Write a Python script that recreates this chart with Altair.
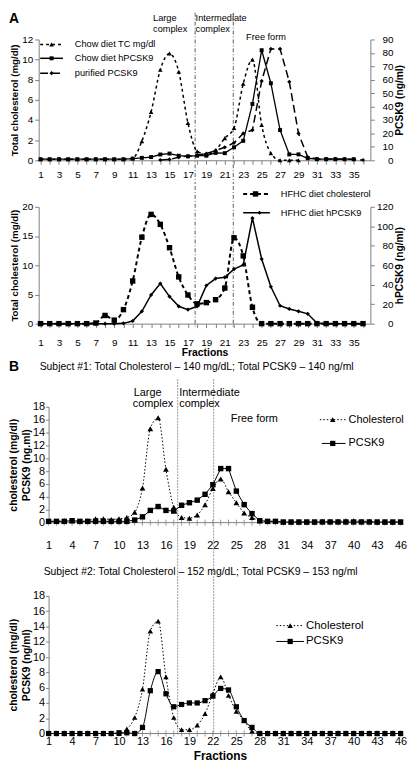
import altair as alt
import pandas as pd

FONT = "Liberation Sans"
BLACK = "#000000"
AXC = "#7f7f7f"

# ---------------- data ----------------
# Panel A, top: chow diet
frac_tc = list(range(1, 30))
chow_tc = [0.1, 0.1, 0.1, 0.1, 0.1, 0.1, 0.1, 0.1, 0.1, 0.1, 0.2, 1.9, 4.8, 9.0, 10.6,
           8.8, 3.7, 0.9, 0.6, 1.0, 2.2, 3.2, 7.6, 10.0, 3.5, 0.7, 0.0, 0.0, 0.0]
frac_hp = list(range(1, 36))
chow_hpcsk9 = [0.8, 0.8, 0.8, 0.8, 0.8, 0.8, 0.8, 0.8, 0.8, 0.8, 1.2, 1.8, 2.4, 4.3, 5.0,
               3.4, 2.9, 3.4, 3.4, 5.5, 5.3, 9.7, 14.5, 42.0, 82.0, 57.4, 22.5, 4.4, 4.4, 1.5,
               0.8, 0.8, 0.8, 0.8, 0.8]
frac_pur = list(range(14, 37))
purified_pcsk9 = [0.2, 0.6, 2.2, 3.2, 3.8, 5.0, 7.2, 9.7, 13.0, 20.0, 22.5, 59.0, 83.0, 83.0,
                  58.5, 20.0, 2.4, 1.0, 1.0, 1.0, 0.8, 0.5, 0.2]

# Panel A, bottom: HFHC diet
frac_a = list(range(1, 37))
hfhc_chol = [0, 0, 0, 0, 0, 0, 0.1, 1.4, 0.6, 2.4, 7.3, 14.8, 18.7, 17.0, 13.0, 8.0, 4.9, 3.4,
             3.6, 4.1, 6.1, 14.7, 11.6, 2.8, 0, 0, 0, 0, 0, 0, 0, 0, 0, 0, 0, 0]
hfhc_hpcsk9 = [0, 0, 0, 0, 0, 0, 0, 0, 0, 0.3, 2.7, 12.7, 29.5, 41.2, 27.8, 17.8, 14.4, 17.8,
               39.2, 46.3, 47.6, 56.0, 60.3, 108.3, 66.4, 37.9, 18.4, 15.1, 12.7, 10.1, 0.7,
               0, 0, 0, 0, 0]

# Panel B: human subjects
frac_b = list(range(1, 47))
s1_chol = [0.2, 0.2, 0.3, 0.3, 0.2, 0.3, 0.6, 0.6, 0.5, 0.6, 0.8, 1.6, 5.4, 14.6, 16.3, 8.3,
           2.4, 0.8, 0.7, 1.2, 2.8, 5.3, 6.8, 4.8, 3.1, 1.5, 0.8, 0.3, 0.2, 0.2, 0.1, 0.1,
           0.1, 0.1, 0.1, 0.2, 0.2, 0.2, 0.3, 0.3, 0.2, 0.2, 0.1, 0.1, 0.1, 0.1]
s1_pcsk9 = [0.2, 0.2, 0.2, 0.3, 0.2, 0.2, 0.2, 0.2, 0.2, 0.2, 0.2, 0.4, 0.9, 1.9, 2.5, 1.9,
            1.8, 2.7, 3.1, 3.5, 4.4, 5.9, 8.4, 8.4, 4.9, 2.8, 1.4, 0.3, 0.2, 0.2, 0.1, 0.1,
            0.1, 0.1, 0.1, 0.1, 0.1, 0.1, 0.1, 0.1, 0.1, 0.1, 0.1, 0.1, 0.1, 0.1]
s2_chol = [0, 0, 0, 0, 0, 0, 0, 0, 0, 0, 0.6, 2.1, 5.8, 13.4, 14.7, 7.4, 2.1, 0.5, 0.5, 1.1,
           2.6, 5.2, 7.4, 5.0, 2.9, 1.7, 0.3, 0, 0, 0, 0, 0, 0, 0, 0, 0, 0, 0, 0, 0, 0, 0,
           0, 0, 0, 0]
s2_pcsk9 = [0, 0, 0, 0, 0, 0, 0, 0, 0, 0.1, 0.1, 0.0, 0.8, 5.6, 8.1, 5.2, 3.5, 3.8, 4.0, 4.0,
            4.3, 4.9, 5.9, 5.7, 3.5, 1.7, 0.8, 0, 0, 0, 0, 0, 0, 0, 0, 0, 0, 0, 0, 0, 0, 0,
            0, 0, 0, 0]

region_lines_a = [17.78, 21.92]
region_lines_b = [17.5, 22.1]
ticks_a = list(range(1, 37))
ticks_b = [1, 4, 7, 10, 13, 16, 19, 22, 25, 28, 31, 34, 37, 40, 43, 46]

title_s1 = "Subject #1: Total Cholesterol \u2013 140 mg/dL; Total PCSK9 \u2013 140 ng/ml"
title_s2 = "Subject #2: Total Cholesterol \u2013 152 mg/dL; Total PCSK9 \u2013 153 ng/ml"

# ---------------- helpers ----------------
DUMMY = pd.DataFrame({"d": [0]})


def text_mark(x, y, s, size, weight="normal", align="left"):
    return alt.Chart(DUMMY).mark_text(
        text=s, align=align, baseline="middle", font=FONT, fontSize=size,
        fontWeight=weight, color=BLACK
    ).encode(x=alt.value(x), y=alt.value(y))


def bound_mark(left, top, bottom):
    return alt.Chart(DUMMY).mark_rule(color="#ffffff", strokeWidth=1).encode(
        x=alt.value(left), y=alt.value(top), y2=alt.value(bottom))


def legend_row(x1, x2, xm, xt, y, dash, lw, shape, msize, label, fsize):
    rk = dict(color=BLACK, strokeWidth=lw)
    if dash:
        rk["strokeDash"] = dash
    ln = alt.Chart(DUMMY).mark_rule(**rk).encode(
        x=alt.value(x1), x2=alt.value(x2), y=alt.value(y))
    pt = alt.Chart(DUMMY).mark_point(
        shape=shape, filled=True, size=msize, color=BLACK, opacity=1
    ).encode(x=alt.value(xm), y=alt.value(y))
    return [ln, pt, text_mark(xt, y, label, fsize)]


def series(df, xenc, yenc, dash, lw, shape, msize, interp="linear"):
    base = alt.Chart(df).encode(x=xenc, y=yenc)
    lk = dict(color=BLACK, strokeWidth=lw, interpolate=interp)
    if dash:
        lk["strokeDash"] = dash
    return [base.mark_line(**lk),
            base.mark_point(shape=shape, filled=True, size=msize, color=BLACK, opacity=1)]


def vlines(xenc, positions, top, bottom, color, dash, lw):
    df = pd.DataFrame({"f": positions})
    return alt.Chart(df).mark_rule(color=color, strokeDash=dash, strokeWidth=lw).encode(
        x=xenc, y=alt.value(top), y2=alt.value(bottom))


def x_enc(domain, values, tick, lpad, lsize, label_expr=None, title=None, tsize=10, tpad=0,
          show_domain=True):
    ax = dict(values=values, grid=False, tickSize=tick, labelPadding=lpad, labelFontSize=lsize,
              labelFont=FONT, labelColor=BLACK, labelAngle=0, labelFlush=False,
              labelOverlap=False, domain=show_domain, domainColor=AXC, tickColor=AXC,
              title=title)
    if label_expr:
        ax["labelExpr"] = label_expr
    if title:
        ax.update(titleFont=FONT, titleFontSize=tsize, titleFontWeight="bold",
                  titleColor=BLACK, titlePadding=tpad)
    return alt.X("f:Q", scale=alt.Scale(domain=domain, nice=False, zero=False),
                 axis=alt.Axis(**ax))


def y_enc(field, domain, values, orient, title, lsize, tsize, tpad, lpad=2, tick=4,
          lalign=None, tangle=None, tbase=None, tlh=None, offset=None):
    ax = dict(values=values, orient=orient, grid=False, tickSize=tick, labelPadding=lpad,
              labelFontSize=lsize, labelFont=FONT, labelColor=BLACK, domainColor=AXC,
              tickColor=AXC, title=title, titleFont=FONT, titleFontSize=tsize,
              titleFontWeight="bold", titleColor=BLACK, titlePadding=tpad)
    if lalign:
        ax["labelAlign"] = lalign
    if tangle is not None:
        ax["titleAngle"] = tangle
    if tbase:
        ax["titleBaseline"] = tbase
    if tlh:
        ax["titleLineHeight"] = tlh
    if offset is not None:
        ax["offset"] = offset
    return alt.Y(field + ":Q", scale=alt.Scale(domain=domain, nice=False, zero=True),
                 axis=alt.Axis(**ax))


ODD = "datum.value % 2 == 1 ? datum.label : ''"

# ---------------- Panel A (top) ----------------
WA, HA1, HA2 = 335, 122, 118
xA1 = x_enc([0.8, 36.8], ticks_a, 4, 5, 10, label_expr=ODD)
yA1L = y_enc("tc", [0, 12], [0, 2, 4, 6, 8, 10, 12], "left",
             "Total cholesterol (mg/dl)", 10, 9.8, 2)
yA1R = y_enc("pcsk9", [0, 90], [0, 10, 20, 30, 40, 50, 60, 70, 80, 90], "right",
             "PCSK9 (ng/ml)", 10, 10.3, 1, lpad=19, lalign="right", tangle=270, tbase="top")

dfA1_tc = pd.DataFrame({"f": frac_tc, "tc": chow_tc})
dfA1_hp = pd.DataFrame({"f": frac_hp, "pcsk9": chow_hpcsk9})
dfA1_pur = pd.DataFrame({"f": frac_pur, "pcsk9": purified_pcsk9})

a1_left = alt.layer(*series(dfA1_tc, xA1, yA1L, [3, 3], 1.5, "triangle-up", 22, "monotone"))
a1_right = alt.layer(*series(dfA1_hp, xA1, yA1R, None, 1.3, "square", 16),
                     *series(dfA1_pur, xA1, yA1R, [8, 4], 1.5, "diamond", 18))

a1_layers = [bound_mark(-30, -27, 146),
             vlines(xA1, region_lines_a, -27, 146, "#333333", [4, 2, 1, 2], 0.8),
             a1_left, a1_right,
             text_mark(-30, -21, "A", 14, "bold"),
             text_mark(115.5, -22, "Large", 9.3), text_mark(115.5, -10.5, "complex", 9.3),
             text_mark(158.5, -22, "Intermediate", 9.3), text_mark(158.5, -10.5, "complex", 9.3),
             text_mark(209.5, -2, "Free form", 9.3)]
a1_layers += legend_row(1.5, 24.5, 13, 36.5, 5, [3, 3], 1.5, "triangle-up", 22, "Chow diet TC mg/dl", 9.3)
a1_layers += legend_row(1.5, 24.5, 13, 36.5, 19, None, 1.5, "square", 16, "Chow diet hPCSK9", 9.3)
a1_layers += legend_row(1.5, 24.5, 13, 36.5, 34, [8, 4], 1.5, "diamond", 18, "purified PCSK9", 9.3)

panel_a1 = alt.layer(*a1_layers).resolve_scale(y="independent").properties(width=WA, height=HA1)

# ---------------- Panel A (bottom) ----------------
xA2 = x_enc([0.8, 36.8], ticks_a, 4, 10, 10, label_expr=ODD, title="Fractions", tsize=10.5, tpad=0)
yA2L = y_enc("chol", [0, 20], [0, 5, 10, 15, 20], "left", "Total cholesterol (mg/dl)", 10, 9.8, 2)
yA2R = y_enc("hp", [0, 120], [0, 20, 40, 60, 80, 100, 120], "right", "hPCSK9 (ng/ml)", 10, 10.3, 1,
             lpad=19, lalign="right", tangle=270, tbase="top")

dfA2_c = pd.DataFrame({"f": frac_a, "chol": hfhc_chol})
dfA2_h = pd.DataFrame({"f": frac_a, "hp": hfhc_hpcsk9})

a2_left = alt.layer(*series(dfA2_c, xA2, yA2L, [4, 3], 2, "square", 30, "monotone"))
a2_right = alt.layer(*series(dfA2_h, xA2, yA2R, None, 1.5, "diamond", 18))

a2_layers = [bound_mark(-30, -21, 152),
             vlines(xA2, region_lines_a, -21, 121, "#333333", [4, 2, 1, 2], 0.8),
             a2_left, a2_right]
a2_layers += legend_row(206.5, 231.5, 219, 244.5, -13, [4, 3], 2, "square", 30, "HFHC diet  cholesterol", 9.3)
a2_layers += legend_row(206.5, 233.5, 223, 244.5, 6, None, 1.5, "diamond", 18, "HFHC diet hPCSK9", 9.3)

panel_a2 = alt.layer(*a2_layers).resolve_scale(y="independent").properties(width=WA, height=HA2)

# ---------------- Panel B ----------------
WB, HB1, HB2 = 366, 117, 139
XDOM_B = [-0.27, 46.06]
Y_B = [0, 2, 4, 6, 8, 10, 12, 14, 16, 18]


def cross_ticks(xenc, h):
    df = pd.DataFrame({"f": frac_b})
    return alt.Chart(df).mark_rule(color=AXC, strokeWidth=0.8).encode(
        x=xenc, y=alt.value(h - 3), y2=alt.value(h + 3))


def base_line(xenc, h):
    df = pd.DataFrame({"f": [frac_b[0]], "f2": [frac_b[-1]]})
    return alt.Chart(df).mark_rule(color=AXC, strokeWidth=1).encode(
        x=xenc, x2=alt.X2("f2:Q"), y=alt.value(h))


xB1 = x_enc(XDOM_B, ticks_b, 0, 17, 11, show_domain=False)
yB1 = y_enc("v", [0, 18], Y_B, "left", ["cholesterol (mg/dl)", "PCSK9 (ng.ml)"], 11, 10.5, 1,
            lpad=1, tick=3, tlh=13, offset=-10)
dfB1_c = pd.DataFrame({"f": frac_b, "v": s1_chol})
dfB1_p = pd.DataFrame({"f": frac_b, "v": s1_pcsk9})

b1_layers = [bound_mark(-30, -48, 151),
             vlines(xB1, region_lines_b, -28, 151, "#999999", [2, 1], 1),
             base_line(xB1, HB1),
             cross_ticks(xB1, HB1),
             *series(dfB1_c, xB1, yB1, [1.5, 2], 1, "triangle-up", 34, "monotone"),
             *series(dfB1_p, xB1, yB1, None, 1, "square", 30),
             text_mark(-30, -40, "B", 14, "bold"),
             text_mark(1, -40, title_s1, 10.5),
             text_mark(96, -14, "Large", 11), text_mark(95, -3, "complex", 11),
             text_mark(142, -14, "Intermediate", 11), text_mark(142, -3, "complex", 11),
             text_mark(194, 12, "Free form", 11)]
b1_layers += legend_row(284, 311, 297, 313, 13, [1.5, 2], 1, "triangle-up", 30, "Cholesterol", 11)
b1_layers += legend_row(286, 310, 297, 313, 37, None, 1, "square", 28, "PCSK9", 11)

panel_b1 = alt.layer(*b1_layers).properties(width=WB, height=HB1)

xB2 = x_enc(XDOM_B, ticks_b, 0, 2, 11, title="Fractions", tsize=12, tpad=4, show_domain=False)
yB2 = y_enc("v", [0, 18], Y_B, "left", ["cholesterol (mg/dl)", "PCSK9 (ng/ml)"], 11, 10.5, 1,
            lpad=1, tick=3, tlh=13, offset=-10)
dfB2_c = pd.DataFrame({"f": frac_b, "v": s2_chol})
dfB2_p = pd.DataFrame({"f": frac_b, "v": s2_pcsk9})

b2_layers = [bound_mark(-30, -38, 168),
             vlines(xB2, region_lines_b, -38, 140, "#999999", [2, 1], 1),
             base_line(xB2, HB2),
             cross_ticks(xB2, HB2),
             *series(dfB2_c, xB2, yB2, [1.5, 2], 1, "triangle-up", 30, "monotone"),
             *series(dfB2_p, xB2, yB2, None, 1, "square", 28, "monotone"),
             text_mark(5, -24, title_s2, 10.5)]
b2_layers += legend_row(240, 268, 254, 270, 30, [1.5, 2], 1, "triangle-up", 30, "Cholesterol", 11.5)
b2_layers += legend_row(240, 268, 254, 270, 46, None, 1, "square", 28, "PCSK9", 11.5)

panel_b2 = alt.layer(*b2_layers).properties(width=WB, height=HB2)

chart = alt.vconcat(panel_a1, panel_a2, panel_b1, panel_b2, spacing=0).properties(
    padding=0
).configure_view(strokeWidth=0)

chart.save("out.html", embed_options={"renderer": "svg", "actions": False})
